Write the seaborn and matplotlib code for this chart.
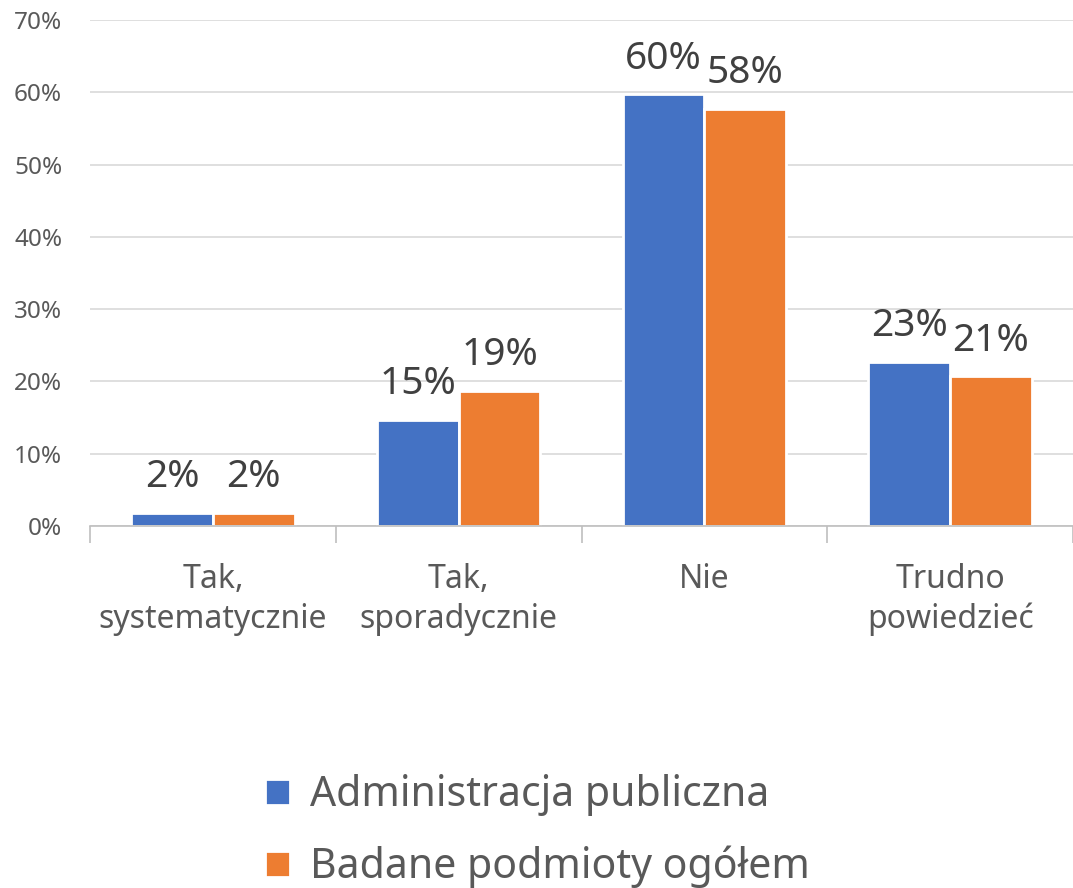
import matplotlib.pyplot as plt
import seaborn as sns
import pandas as pd

categories = ["Tak,\nsystematycznie", "Tak,\nsporadycznie", "Nie", "Trudno\npowiedzieć"]
series = ["Administracja publiczna", "Badane podmioty ogółem"]
admin = [1.8, 14.7, 59.7, 22.7]
ogol = [1.8, 18.7, 57.7, 20.7]
yticks = [0, 10, 20, 30, 40, 50, 60, 70]

df = pd.DataFrame({
    "cat": categories * 2,
    "series": [series[0]] * 4 + [series[1]] * 4,
    "val": admin + ogol,
})

sns.set_theme(style="white")
plt.rcParams["font.family"] = ["Noto Sans", "DejaVu Sans"]

fig = plt.figure(figsize=(10.73, 8.88), dpi=100)
ax = fig.add_axes([0.0839, 0.4077, 0.9161, 0.5698])

sns.barplot(data=df, x="cat", y="val", hue="series", order=categories,
            palette=["#4472C4", "#ED7D31"], width=0.665, edgecolor="white",
            linewidth=2, saturation=1, ax=ax, legend=True)

for cont in ax.containers:
    ax.bar_label(cont, fmt="%.0f%%", padding=12, fontsize=28, color="#404040")

ax.set_ylim(0, 70)
ax.set_xlim(-0.5, 3.5)
ax.set_yticks(yticks)
ax.set_yticklabels([f"{t}%" for t in yticks], fontsize=17.5, color="#595959")
ax.yaxis.grid(True, color="#d9d9d9", linewidth=1.2)
ax.set_axisbelow(True)
ax.tick_params(axis="y", length=0, pad=20)
ax.set_xlabel("")
ax.set_ylabel("")
for s in ["top", "right", "left"]:
    ax.spines[s].set_visible(False)
ax.spines["bottom"].set_color("#bfbfbf")
ax.spines["bottom"].set_linewidth(1.2)

ax.set_xticks(range(4))
ax.set_xticklabels(categories, fontsize=23, color="#595959", linespacing=1.25)
ax.set_xticks([-0.5, 0.5, 1.5, 2.5, 3.5], minor=True)
ax.tick_params(axis="x", which="major", length=0, pad=27)
ax.tick_params(axis="x", which="minor", length=12, color="#bfbfbf", width=1.2,
               bottom=True)

handles, labels = ax.get_legend_handles_labels()
ax.get_legend().remove()
fig.legend(handles, labels, loc="center", bbox_to_anchor=(0.501, 0.064),
           ncol=1, frameon=False, fontsize=29.5, labelcolor="#595959",
           handlelength=0.6, handleheight=0.6, handletextpad=0.5,
           labelspacing=0.72)

fig.savefig("out.png", dpi=100)
